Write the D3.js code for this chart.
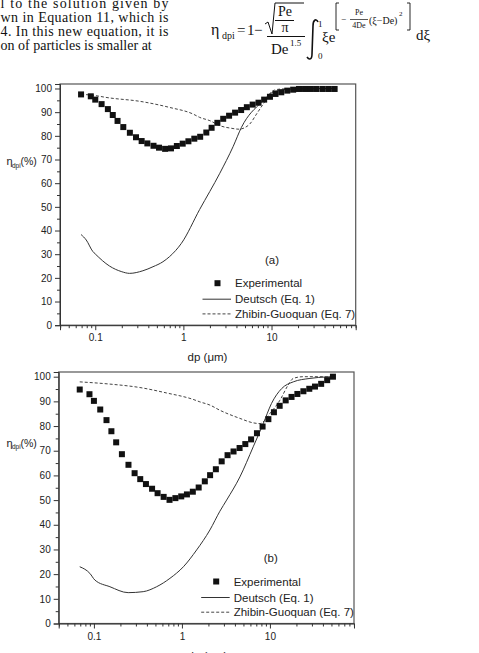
<!DOCTYPE html>
<html>
<head>
<meta charset="utf-8">
<script src="https://cdn.jsdelivr.net/npm/d3@7"></script>
<style>
  html, body { margin: 0; padding: 0; background: #fff; }
  svg { display: block; }
  .tick text { font-family: "Liberation Sans", Arial, sans-serif; font-size: 10px; fill: #222; }
  .tick line { stroke: #333; }
  .domain { stroke: #333; }
</style>
</head>
<body>
<svg id="chart" width="479" height="653"></svg>
<script>
// --- datos ---
const dpExp = [0.069, 0.089, 0.100, 0.118, 0.139, 0.158, 0.179, 0.208, 0.247, 0.29, 0.336,
  0.39, 0.458, 0.529, 0.62, 0.723, 0.843, 0.982, 1.14, 1.33, 1.55, 1.82, 2.09, 2.43, 2.83,
  3.30, 3.86, 4.52, 5.25, 6.11, 7.12, 8.25, 9.6, 11.1, 12.9, 15.1, 17.6, 20.5, 24.0, 28.0,
  32.5, 38.2, 44.7, 52.0];

const effExpA = [97.5, 96.7, 95.3, 93.4, 91.3, 88.8, 86.3, 83.7, 81.3, 79.4, 77.8, 76.8, 75.8,
  75.0, 74.5, 74.7, 75.7, 76.7, 77.7, 78.8, 79.6, 81.4, 83.4, 85.5, 87.2, 88.5, 89.8, 90.9,
  92.1, 93.2, 94.0, 95.3, 96.5, 97.7, 98.4, 99.1, 99.5, 99.8, 99.8, 99.8, 99.8, 99.8, 99.8, 99.8];

const effExpB = [94.8, 92.9, 90.2, 86.7, 82.4, 77.9, 73.4, 68.6, 64.3, 60.9, 58.5, 56.5, 54.6,
  52.8, 51.3, 50.1, 50.8, 51.5, 52.3, 53.4, 55.1, 57.6, 60.1, 62.5, 65.7, 68.2, 69.7, 71.1,
  72.7, 74.6, 77.1, 79.8, 82.8, 85.6, 88.2, 90.4, 91.8, 93.0, 94.1, 95.1, 96.0, 97.1, 98.6, 100.0];

// Deutsch (Eq. 1)
const dpDeutschA  = [0.069, 0.079, 0.094, 0.1, 0.145, 0.2, 0.245, 0.347, 0.452, 0.586, 0.698,
  0.95, 1.53, 2.59, 3.66, 4.56, 7.7, 11.4, 20, 50];
const effDeutschA = [38.3, 36.0, 31.1, 30.1, 25.0, 22.6, 21.9, 23.0, 24.7, 26.8, 29.0,
  34.6, 48.9, 64.2, 75.4, 83.6, 94.2, 99.1, 99.9, 100];

const dpDeutschB  = [0.069, 0.09, 0.1026, 0.152, 0.245, 0.363, 0.516, 0.731, 1.04, 1.47, 2.08,
  2.70, 3.22, 4.56, 6.46, 8.4, 10.4, 13.6, 18.4, 28.5, 44.1, 52.5];
const effDeutschB = [23.0, 20.3, 17.6, 14.9, 12.5, 12.9, 14.9, 18.3, 23.0, 29.8, 37.9,
  45.5, 50.0, 59.4, 71.6, 81.0, 89.1, 95.2, 97.9, 99.3, 99.9, 100];

// Zhibin-Guoquan (Eq. 7)
const dpZhibinA  = [0.069, 0.086, 0.146, 0.318, 0.698, 1.29, 1.53, 2.0, 2.59, 3.5, 4.3, 5.0,
  5.67, 6.76, 8.04, 10.4, 13, 50];
const effZhibinA = [97.5, 97.3, 96.0, 94.6, 92.0, 89.2, 87.8, 86.4, 84.3, 83.2, 82.8, 83.5,
  85.0, 89.2, 93.4, 99.1, 99.8, 100];

const dpZhibinB  = [0.069, 0.152, 0.334, 0.67, 1.34, 1.6, 2.08, 2.70, 4.56, 6.46, 7.7, 10,
  13, 16.1, 18.4, 23.9, 50];
const effZhibinB = [97.9, 97.0, 95.6, 93.4, 90.8, 89.8, 88.5, 86.4, 83.1, 81.3, 81.0, 85.1,
  90.5, 96.6, 99.3, 100, 100];

const yTicks = d3.range(0, 101, 10);
const xMajor = [0.1, 1, 10];
const xMinor = [0.04, 0.05, 0.06, 0.07, 0.08, 0.09, 0.2, 0.3, 0.4, 0.5, 0.6, 0.7, 0.8, 0.9,
  2, 3, 4, 5, 6, 7, 8, 9, 20, 30, 40, 50, 60, 70, 80, 90];
const legendLabels = ['Experimental', 'Deutsch (Eq. 1)', 'Zhibin-Guoquan (Eq. 7)'];

const SANS = '"Liberation Sans", Arial, sans-serif';
const SERIF = '"Liberation Serif", "Times New Roman", serif';

const svg = d3.select('#chart');

// ---------- texto del artículo (arriba) ----------
const para = [
  { t: 'l to the solution given by', y: 7.5, w: 168 },
  { t: 'wn in Equation 11, which is', y: 21.8, w: 168 },
  { t: '4. In this new equation, it is', y: 36, w: 168 },
  { t: 'on of particles is smaller at', y: 50, w: null }
];
para.forEach(p => {
  const t = svg.append('text').attr('x', 0.5).attr('y', p.y)
    .attr('font-family', SERIF).attr('font-size', 14).attr('fill', '#111').text(p.t);
  if (p.w) t.attr('textLength', p.w).attr('lengthAdjust', 'spacing');
});

// ecuación
function eqText(x, y, s, size, anchor) {
  return svg.append('text').attr('x', x).attr('y', y)
    .attr('font-family', SERIF).attr('font-size', size).attr('fill', '#111')
    .attr('text-anchor', anchor || 'start').text(s);
}
function eqPath(d, w) {
  return svg.append('path').attr('d', d).attr('fill', 'none')
    .attr('stroke', '#111').attr('stroke-width', w || 1);
}
eqText(211, 35, 'η', 16);
eqText(222, 39, 'dpi', 10);
eqText(237, 35, '=', 15);
eqText(247, 35, '1', 15);
eqText(254, 35, '−', 15);
eqPath('M265,24 L268,22 L272,34 L275,3 L304,3');
eqText(285, 15.5, 'Pe', 14, 'middle');
eqPath('M275,20.5 L294,20.5');
eqText(285, 32, 'π', 14, 'middle');
eqPath('M267,36.5 L305,36.5');
eqText(271, 54, 'De', 15);
eqText(290, 46, '1.5', 9);
// integral
eqPath('M318,22 C316,18 313,20 313,26 L312,54 C312,60 309,60 307,57', 1.6);
eqText(318, 27, '1', 9);
eqText(318, 59, '0', 9);
eqText(322, 42, 'ξe', 15);
// exponente entre corchetes
eqPath('M339,3 L336,3 L336,30 L339,30', 0.9);
eqText(341, 22, '−', 9);
eqText(359, 15, 'Pe', 8, 'middle');
eqPath('M350,19.5 L368,19.5', 0.7);
eqText(359, 28, '4De', 8, 'middle');
eqText(369, 24, '(ξ−De)', 10);
eqText(399, 16, '2', 7);
eqPath('M407,3 L410,3 L410,30 L407,30', 0.9);
eqText(416, 40, 'dξ', 15);

// ---------- paneles ----------
const panels = [
  { tag: '(a)', left: 60, right: 355.7, top: 84, bottom: 325.2, yLab: 165, xLab: 361,
    exp: effExpA, dpD: dpDeutschA, effD: effDeutschA, dpZ: dpZhibinA, effZ: effZhibinA },
  { tag: '(b)', left: 58.7, right: 354, top: 372, bottom: 623.5, yLab: 446.5, xLab: 659.5,
    exp: effExpB, dpD: dpDeutschB, effD: effDeutschB, dpZ: dpZhibinB, effZ: effZhibinB }
];

panels.forEach(drawPanel);

function drawPanel(p) {
  const x = d3.scaleLog().domain([0.0398, 90.2]).range([p.left, p.right]);
  const y = d3.scaleLinear().domain([0, 101.9]).range([p.bottom, p.top]);
  const g = svg.append('g');

  // marco
  g.append('rect').attr('x', p.left).attr('y', p.top)
    .attr('width', p.right - p.left).attr('height', p.bottom - p.top)
    .attr('fill', 'none').attr('stroke', '#555').attr('stroke-width', 1.2);

  // eje Y
  g.append('g').attr('transform', `translate(${p.left},0)`)
    .call(d3.axisLeft(y).tickValues(yTicks).tickSize(5).tickPadding(3).tickFormat(d3.format('d')));
  g.append('g').attr('transform', `translate(${p.left},0)`)
    .call(d3.axisLeft(y).tickValues(d3.range(5, 101, 10)).tickSize(3).tickFormat(''))
    .select('.domain').remove();

  // eje X (log)
  g.append('g').attr('transform', `translate(0,${p.bottom})`)
    .call(d3.axisBottom(x).tickValues(xMajor).tickSize(5).tickPadding(4).tickFormat(d => d3.format('')(d)));
  g.append('g').attr('transform', `translate(0,${p.bottom})`)
    .call(d3.axisBottom(x).tickValues(xMinor).tickSize(3).tickFormat(''))
    .select('.domain').remove();

  // etiquetas de ejes
  g.append('text').attr('x', 6.5).attr('y', p.yLab)
    .attr('font-family', SANS).attr('font-size', 11).attr('fill', '#222').text('η');
  g.append('text').attr('x', 12).attr('y', p.yLab + 2.5)
    .attr('font-family', SANS).attr('font-size', 6.5).attr('fill', '#222').text('dpi');
  g.append('text').attr('x', 20.5).attr('y', p.yLab)
    .attr('font-family', SANS).attr('font-size', 10.5).attr('fill', '#222').text('(%)');

  g.append('text').attr('x', 207.5).attr('y', p.xLab).attr('text-anchor', 'middle')
    .attr('font-family', SANS).attr('font-size', 11.5).attr('fill', '#222')
    .text('dp (μm)');

  // curvas
  const line = d3.line().x(d => x(d[0])).y(d => y(d[1])).curve(d3.curveMonotoneX);
  g.append('path').datum(d3.zip(p.dpD, p.effD)).attr('d', line)
    .attr('fill', 'none').attr('stroke', '#333').attr('stroke-width', 1);
  g.append('path').datum(d3.zip(p.dpZ, p.effZ)).attr('d', line)
    .attr('fill', 'none').attr('stroke', '#444').attr('stroke-width', 1)
    .attr('stroke-dasharray', '3,2');

  // puntos experimentales
  const s = 6;
  g.selectAll('rect.pt').data(d3.zip(dpExp, p.exp)).join('rect')
    .attr('class', 'pt')
    .attr('x', d => x(d[0]) - s / 2).attr('y', d => y(d[1]) - s / 2)
    .attr('width', s).attr('height', s).attr('fill', '#111');

  // leyenda
  const lx = p.left, ly = p.bottom;
  g.append('text').attr('x', lx + 212).attr('y', ly - 61.5).attr('text-anchor', 'middle')
    .attr('font-family', SANS).attr('font-size', 11.5).attr('fill', '#222').text(p.tag);
  g.append('rect').attr('x', lx + 157.5 - s / 2).attr('y', ly - 42 - s / 2)
    .attr('width', s).attr('height', s).attr('fill', '#111');
  g.append('line').attr('x1', lx + 142.5).attr('x2', lx + 171).attr('y1', ly - 26).attr('y2', ly - 26)
    .attr('stroke', '#333');
  g.append('line').attr('x1', lx + 142.5).attr('x2', lx + 171).attr('y1', ly - 11.3).attr('y2', ly - 11.3)
    .attr('stroke', '#444').attr('stroke-dasharray', '3,2');
  [ly - 38, ly - 22, ly - 7.3].forEach((yy, i) => {
    g.append('text').attr('x', lx + 175).attr('y', yy)
      .attr('font-family', SANS).attr('font-size', 11.5).attr('fill', '#222')
      .text(legendLabels[i]);
  });
}
</script>
</body>
</html>
